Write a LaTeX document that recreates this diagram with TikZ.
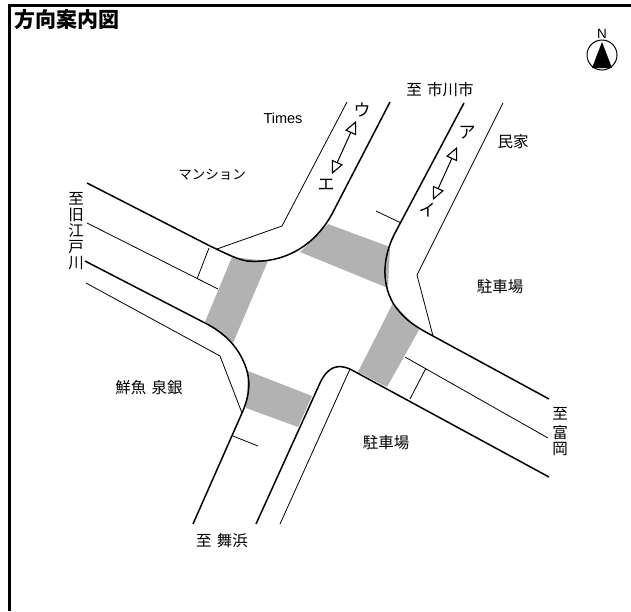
\documentclass[tikz,border=0pt]{standalone}
\usepackage{fontspec}
\setmainfont{Liberation Sans}
\newfontfamily\cjk{Noto Sans CJK JP}
\usetikzlibrary{arrows.meta}
\tikzset{
  road/.style={line width=1.5pt,line join=round},
  thin line/.style={line width=0.8pt,line join=round},
  walk/.style={fill=black!30,draw=none},
  frame/.style={line width=3pt},
  lab/.style={inner sep=0pt,font=\cjk\fontsize{15.5}{16}\selectfont,align=center},
  kana/.style={inner sep=0pt,font=\cjk\fontsize{17}{17}\selectfont},
  dir/.style={line width=1pt,{Triangle[open,length=13pt,width=12pt,line width=1.1pt]}-{Triangle[open,length=13pt,width=12pt,line width=1.1pt]}}
}
\begin{document}
\begin{tikzpicture}[x=1pt,y=-1pt]
\useasboundingbox (0,0) rectangle (631,611);
% frame
\draw[frame] (9.5,611) -- (9.5,5) -- (631,5);
% crosswalks
\fill[walk] (232,257) -- (268,261) -- (233,343) -- (205,322) -- cycle;
\fill[walk] (300,252) -- (328,224) -- (390,247) -- (388,288) -- cycle;
\fill[walk] (393,303) -- (419,330) -- (387,387) -- (358,372) -- cycle;
\fill[walk] (248,371) -- (312,396) -- (298,427) -- (246,408) -- cycle;
% road edges
\draw[road] (87,183) -- (210,246) .. controls (225,253) and (236,259) .. (247,261)
  .. controls (285,264) and (315,245) .. (332,214) -- (390,102);
\draw[road] (464,103) -- (395,233) .. controls (383,256) and (381,282) .. (393,303)
  .. controls (402,317) and (412,325) .. (433,336) -- (549,399);
\draw[road] (549,477) -- (350,369) .. controls (338,364) and (328,366) .. (320,383) -- (256,524);
\draw[road] (193,524) -- (242,413) .. controls (250,395) and (251,380) .. (245,365)
  .. controls (238,347) and (225,333) .. (205,323) -- (85,261);
% thin lines
\draw[thin line] (87,223) -- (218,289);
\draw[thin line] (209,248) -- (197,279);
\draw[thin line] (217,249) -- (282,226) -- (347,102);
\draw[thin line] (86,283) -- (220,356) -- (242,413);
\draw[thin line] (233,436) -- (258,446);
\draw[thin line] (405,357) -- (548,438);
\draw[thin line] (426,368) -- (410,399);
\draw[thin line] (350,369) -- (280,524);
\draw[thin line] (376,211) -- (401,223);
\draw[thin line] (503,103) -- (417,275) -- (433,336);
% direction arrows
\coordinate (wa) at (356,121);
\coordinate (wb) at (332,174);
\coordinate (ea) at (457,147);
\coordinate (eb) at (433,200);
\draw[dir] (wb) -- (wa);
\draw[dir] (eb) -- (ea);
% north mark
\node[circle,draw,line width=1pt,minimum size=30pt,inner sep=0pt] (compass) at (602,55) {};
\fill (602,42) -- (612,68) -- (592,68) -- cycle;
\node[inner sep=0pt,font=\fontsize{13.5}{14}\selectfont] (north) at (602,34) {N};
% labels
\node[inner sep=0pt,font=\cjk\bfseries\fontsize{21}{21}\selectfont,anchor=west] (title) at (14.5,20) {方向案内図};
\node[lab] (l1) at (440,90) {至\hspace{.35em}市川市};
\node[lab] (l2) at (513,142) {民家};
\node[lab] (l3) at (500,287) {駐車場};
\node[lab] (l4) at (386,443) {駐車場};
\node[lab] (l5) at (222,541) {至\hspace{.35em}舞浜};
\node[lab] (l6) at (149,388) {鮮魚\hspace{.35em}泉銀};
\node[lab,font=\cjk\fontsize{13.5}{14}\selectfont] (l7) at (212,175) {マンション};
\node[inner sep=0pt,font=\fontsize{14.5}{15}\selectfont] (l8) at (283,118) {Times};
\node[lab] (l9) at (76,231) {至\\旧\\江\\戸\\川};
\node[lab] (l10) at (560,432) {至\\[3pt]富\\岡};
\node[kana] (ka) at (467,133) {ア};
\node[kana] (ki) at (427,210) {イ};
\node[kana] (ku) at (362,110) {ウ};
\node[kana] (ke) at (326,185) {エ};
\end{tikzpicture}
\end{document}
